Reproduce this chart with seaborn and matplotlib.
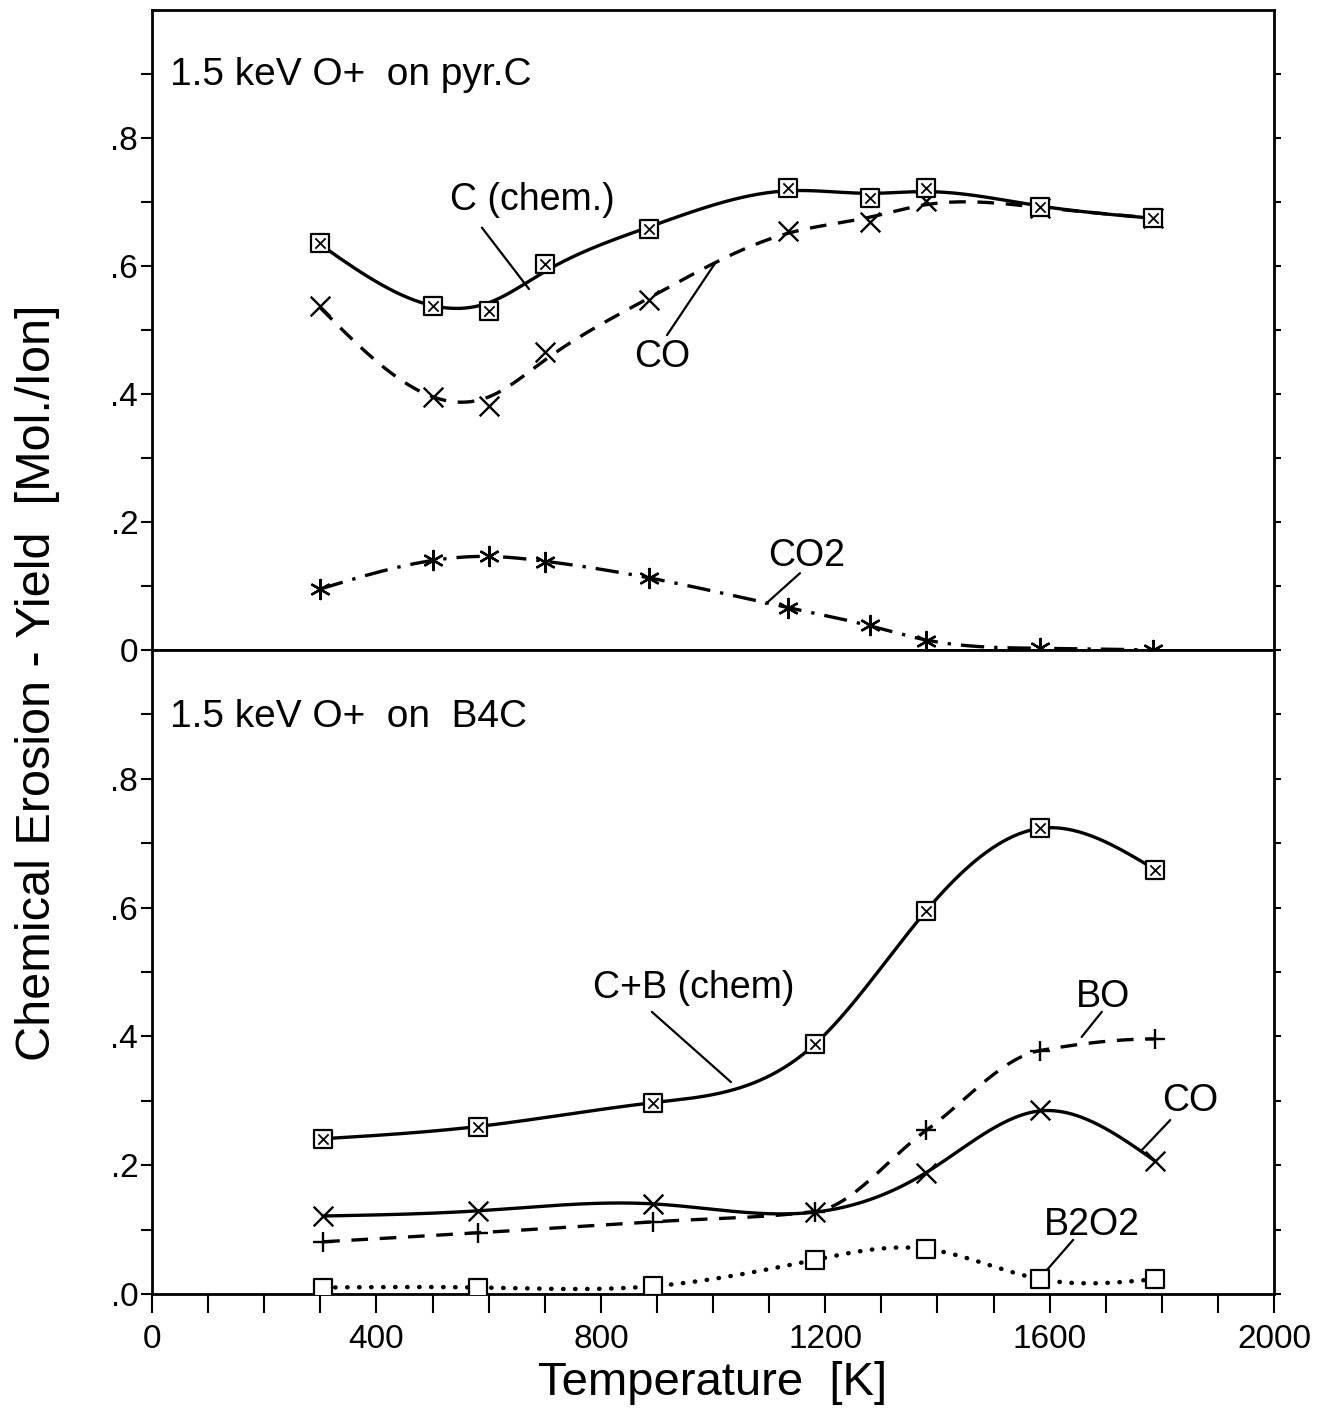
import numpy as np
import pandas as pd
import matplotlib
matplotlib.use("Agg")
import matplotlib.pyplot as plt
import seaborn as sns

# ---- measured yields, 1.5 keV O+ on pyrolytic carbon ----
temp_pyr = [300, 500, 600, 700, 885, 1133, 1280, 1380, 1583, 1784]
c_chem_pyr = [0.636, 0.538, 0.530, 0.603, 0.658, 0.722, 0.706, 0.722, 0.692, 0.675]
co_pyr = [0.538, 0.395, 0.381, 0.466, 0.547, 0.655, 0.669, 0.702, 0.690, 0.675]
co2_pyr = [0.095, 0.140, 0.147, 0.138, 0.113, 0.066, 0.039, 0.014, 0.003, 0.0]

# ---- measured yields, 1.5 keV O+ on B4C ----
temp_b4c = [305, 581, 893, 1182, 1380, 1583, 1788]
cb_chem_b4c = [0.241, 0.260, 0.297, 0.388, 0.595, 0.723, 0.659]
bo_b4c = [0.081, 0.095, 0.112, 0.128, 0.254, 0.378, 0.396]
co_b4c = [0.121, 0.129, 0.140, 0.127, 0.188, 0.285, 0.206]
b2o2_b4c = [0.010, 0.010, 0.012, 0.053, 0.070, 0.023, 0.023]

x_ticks = [0, 400, 800, 1200, 1600, 2000]
y_ticks = [0.0, 0.2, 0.4, 0.6, 0.8]
y_labels_top = ["0", ".2", ".4", ".6", ".8"]
y_labels_bot = [".0", ".2", ".4", ".6", ".8"]


def smoothing_spline(x, y, p, n=400):
    """Penalised (smoothing-spline style) fit on a fine grid.

    Minimises sum (y_i - f(x_i))^2 + p * integral f''^2, x in units of 1000 K.
    """
    x = np.asarray(x, float) / 1000.0
    y = np.asarray(y, float)
    xs = np.linspace(x[0], x[-1], n)
    h = xs[1] - xs[0]
    E = np.zeros((len(x), n))
    for i, xi in enumerate(x):
        j = int(np.clip(np.searchsorted(xs, xi) - 1, 0, n - 2))
        t = (xi - xs[j]) / h
        E[i, j] = 1 - t
        E[i, j + 1] = t
    D = np.diff(np.eye(n), 2, axis=0)
    lam = p / h ** 3
    z = np.linalg.solve(E.T @ E + lam * D.T @ D + 1e-12 * np.eye(n), E.T @ y)
    return xs * 1000.0, z


def pchip(x, y, n=400):
    """Shape-preserving piecewise cubic Hermite curve through the points."""
    x = np.asarray(x, float)
    y = np.asarray(y, float)
    h = np.diff(x)
    delta = np.diff(y) / h
    m = len(x)
    d = np.zeros(m)
    for k in range(1, m - 1):
        if delta[k - 1] * delta[k] > 0:
            w1 = 2 * h[k] + h[k - 1]
            w2 = h[k] + 2 * h[k - 1]
            d[k] = (w1 + w2) / (w1 / delta[k - 1] + w2 / delta[k])

    def end(h0, h1, d0, d1):
        s = ((2 * h0 + h1) * d0 - h0 * d1) / (h0 + h1)
        if np.sign(s) != np.sign(d0):
            s = 0.0
        elif np.sign(d0) != np.sign(d1) and abs(s) > abs(3 * d0):
            s = 3 * d0
        return s

    d[0] = end(h[0], h[1], delta[0], delta[1])
    d[-1] = end(h[-1], h[-2], delta[-1], delta[-2])
    xs = np.linspace(x[0], x[-1], n)
    k = np.clip(np.searchsorted(x, xs) - 1, 0, m - 2)
    t = (xs - x[k]) / h[k]
    h00 = 2 * t ** 3 - 3 * t ** 2 + 1
    h10 = t ** 3 - 2 * t ** 2 + t
    h01 = -2 * t ** 3 + 3 * t ** 2
    h11 = t ** 3 - t ** 2
    ys = h00 * y[k] + h10 * h[k] * d[k] + h01 * y[k + 1] + h11 * h[k] * d[k + 1]
    return xs, ys


sns.set_style("ticks")
plt.rcParams["font.family"] = ["Liberation Sans", "DejaVu Sans"]
plt.rcParams.update({
    "text.color": "black",
    "axes.edgecolor": "black",
    "axes.labelcolor": "black",
    "xtick.color": "black",
    "ytick.color": "black",
})

fig = plt.figure(figsize=(13.37, 14.16), dpi=100)
ax_top = fig.add_axes([0.1137, 0.5410, 0.8392, 0.4519])
ax_bot = fig.add_axes([0.1137, 0.0862, 0.8392, 0.4548])

LW = 2.4


def draw_curve(ax, xs, ys, ls, lw=LW, **kw):
    df = pd.DataFrame({"T": xs, "Y": ys})
    sns.lineplot(data=df, x="T", y="Y", ax=ax, color="black", lw=lw,
                 linestyle=ls, sort=False, zorder=2, **kw)


def curve(ax, x, y, ls, p, lw=LW, **kw):
    xs, ys = smoothing_spline(x, y, p)
    draw_curve(ax, xs, ys, ls, lw, **kw)


def boxed_x(ax, x, y):
    sns.scatterplot(x=x, y=y, ax=ax, marker="s", s=150, color="white",
                    edgecolor="black", linewidth=1.6, zorder=4)
    sns.scatterplot(x=x, y=y, ax=ax, marker="x", s=55, color="black",
                    linewidth=1.3, zorder=5)


def line_marker(ax, x, y, m, size):
    sns.scatterplot(x=x, y=y, ax=ax, marker=m, s=size, color="black",
                    linewidth=1.7, zorder=4)


# top panel: pyrolytic carbon
curve(ax_top, temp_pyr, c_chem_pyr, "-", 1.2e-4)
curve(ax_top, temp_pyr, co_pyr, (0, (5, 3.5)), 1.2e-4)
curve(ax_top, temp_pyr, co2_pyr, (0, (7, 3, 1, 3)), 5e-5)
line_marker(ax_top, temp_pyr, co_pyr, "x", 200)
line_marker(ax_top, temp_pyr, co2_pyr, (6, 2, 0), 190)
boxed_x(ax_top, temp_pyr, c_chem_pyr)

# bottom panel: boron carbide
curve(ax_bot, temp_b4c, cb_chem_b4c, "-", 2e-6)
bo_x, bo_y = pchip(temp_b4c, bo_b4c)
draw_curve(ax_bot, bo_x, bo_y, (0, (5, 3.5)))
curve(ax_bot, temp_b4c, co_b4c, "-", 1e-5)
curve(ax_bot, temp_b4c, b2o2_b4c, (0, (0.1, 2.6)), 2e-6, lw=3.2,
      dash_capstyle="round")
line_marker(ax_bot, temp_b4c, bo_b4c, "+", 190)
line_marker(ax_bot, temp_b4c, co_b4c, "x", 200)
sns.scatterplot(x=temp_b4c, y=b2o2_b4c, ax=ax_bot, marker="s", s=160,
                color="white", edgecolor="black", linewidth=1.6, zorder=4)
boxed_x(ax_bot, temp_b4c, cb_chem_b4c)

FS_TICK = 24
FS_TXT = 27

for ax, labels in ((ax_top, y_labels_top), (ax_bot, y_labels_bot)):
    ax.set_xlim(0, 2000)
    ax.set_ylim(0, 1.0)
    ax.set_xlabel("")
    ax.set_ylabel("")
    ax.set_yticks(y_ticks)
    ax.set_yticklabels(labels, fontsize=FS_TICK)
    ax.set_yticks(np.arange(0.1, 1.0, 0.2), minor=True)
    ax.tick_params(axis="y", which="both", direction="out", length=8,
                   width=1.5, pad=2, left=True, right=True, labelright=False)
    for s in ax.spines.values():
        s.set_visible(True)
        s.set_linewidth(2.0)
        s.set_color("black")
    # right-hand ticks are short
    for t in ax.yaxis.get_major_ticks() + ax.yaxis.get_minor_ticks():
        t.tick2line.set_markersize(5)

ax_top.tick_params(axis="x", which="both", bottom=False, top=False,
                   labelbottom=False)
ax_bot.set_xticks(x_ticks)
ax_bot.set_xticklabels([str(v) for v in x_ticks], fontsize=FS_TICK)
ax_bot.set_xticks(np.arange(100, 2000, 100), minor=True)
ax_bot.tick_params(axis="x", which="both", direction="out", length=14,
                   width=1.5, pad=8, top=False)

# panel titles
ax_top.text(32, 0.898, "1.5 keV O+  on pyr.C", fontsize=28, va="center",
            ha="left")
ax_bot.text(32, 0.896, "1.5 keV O+  on  B4C", fontsize=28, va="center",
            ha="left")


def label(ax, text, txy, p0, p1):
    ax.text(txy[0], txy[1], text, fontsize=FS_TXT, ha="center", va="center")
    ax.plot([p0[0], p1[0]], [p0[1], p1[1]], color="black", lw=1.6, zorder=3)


label(ax_top, "C (chem.)", (678, 0.703), (588, 0.660), (672, 0.564))
label(ax_top, "CO", (909, 0.458), (918, 0.492), (1005, 0.606))
label(ax_top, "CO2", (1166, 0.147), (1155, 0.120), (1094, 0.072))

label(ax_bot, "C+B (chem)", (966, 0.475), (891, 0.438), (1032, 0.329))
label(ax_bot, "BO", (1695, 0.461), (1693, 0.438), (1657, 0.399))
label(ax_bot, "CO", (1850, 0.300), (1815, 0.270), (1765, 0.224))
label(ax_bot, "B2O2", (1676, 0.107), (1642, 0.084), (1592, 0.034))

fig.text(0.028, 0.518, "Chemical Erosion - Yield  [Mol./Ion]", fontsize=35,
         rotation=90, ha="center", va="center")
fig.text(0.533, 0.0233, "Temperature  [K]", fontsize=34, ha="center",
         va="center")

fig.savefig("out.png", dpi=100)
